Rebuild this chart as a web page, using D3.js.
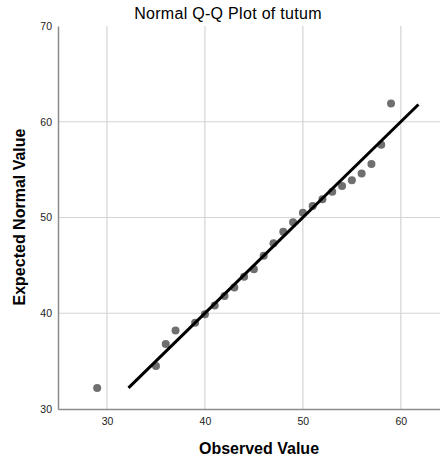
<!DOCTYPE html>
<html>
<head>
<meta charset="utf-8">
<script src="https://cdn.jsdelivr.net/npm/d3@7"></script>
<style>
body { margin: 0; background: #fff; }
svg text { font-family: "Liberation Sans", Arial, sans-serif; }
</style>
</head>
<body>
<div class="chart-wrapper"></div>
<script>
const observed = [29, 35, 36, 37, 39, 40, 41, 42, 43, 44, 45, 46, 47, 48, 49, 50, 51, 52, 53, 54, 55, 56, 57, 58, 59]
const expected = [32.2, 34.5, 36.8, 38.2, 39.0, 39.9, 40.8, 41.8, 42.7, 43.8, 44.6, 46.0, 47.3, 48.5, 49.5, 50.5, 51.2, 51.9, 52.7, 53.3, 53.9, 54.6, 55.6, 57.6, 61.9]
const refLine = [32.2, 61.8]
const xTicks = [30, 40, 50, 60]
const yTicks = [30, 40, 50, 60, 70]

const width = 440
const height = 459
const margin = {top: 26, right: 0, bottom: 50, left: 58}

const data = observed.map((o, i) => ({obs: o, exp: expected[i]}))

const x = d3.scaleLinear().domain([25, 64]).range([margin.left, width - margin.right])
const y = d3.scaleLinear().domain([30, 70]).range([height - margin.bottom, margin.top])

const svg = d3.select('.chart-wrapper')
.append('svg')
.attr('width', width)
.attr('height', height)

// gridlines
svg.append('g')
.selectAll('line')
.data(xTicks)
.enter()
.append('line')
.attr('x1', d => x(d))
.attr('x2', d => x(d))
.attr('y1', y(70))
.attr('y2', y(30))
.style('stroke', '#d4d4d4')
.style('stroke-width', 1.2)

svg.append('g')
.selectAll('line')
.data(yTicks.filter(d => d > 30 && d < 70))
.enter()
.append('line')
.attr('x1', x(25))
.attr('x2', width)
.attr('y1', d => y(d))
.attr('y2', d => y(d))
.style('stroke', '#d4d4d4')
.style('stroke-width', 1.2)

// axes
const xaxis = svg.append('g')
.attr('transform', 'translate(0,' + y(30) + ')')
.call(d3.axisBottom(x).tickValues(xTicks).tickSize(0).tickPadding(9))

xaxis.select('.domain').style('stroke', '#8c8c8c').style('stroke-width', 1.5)
xaxis.selectAll('text').style('font-size', '10.5px').style('fill', '#222')

const yaxis = svg.append('g')
.attr('transform', 'translate(' + x(25) + ',0)')
.call(d3.axisLeft(y).tickValues(yTicks).tickSize(0).tickPadding(6))

yaxis.select('.domain').style('stroke', '#8c8c8c').style('stroke-width', 1.5)
yaxis.selectAll('text').style('font-size', '10.5px').style('fill', '#222')

// points
svg.append('g').selectAll('circle')
.data(data)
.enter()
.append('circle')
.attr('cx', d => x(d.obs))
.attr('cy', d => y(d.exp))
.attr('r', 4)
.style('fill', '#6f6f6f')

// reference line
svg.append('line')
.attr('x1', x(refLine[0]))
.attr('y1', y(refLine[0]))
.attr('x2', x(refLine[1]))
.attr('y2', y(refLine[1]))
.style('stroke', '#000')
.style('stroke-width', 3)

// titles
svg.append('text')
.attr('x', 228)
.attr('y', 19)
.attr('text-anchor', 'middle')
.style('font-size', '16px')
.style('letter-spacing', '0.3px')
.text('Normal Q-Q Plot of tutum')

svg.append('text')
.attr('x', 259)
.attr('y', 454)
.attr('text-anchor', 'middle')
.style('font-size', '16px')
.style('font-weight', 'bold')
.text('Observed Value')

svg.append('text')
.attr('transform', 'translate(25,217) rotate(-90)')
.attr('text-anchor', 'middle')
.style('font-size', '16px')
.style('font-weight', 'bold')
.text('Expected Normal Value')
</script>
</body>
</html>
